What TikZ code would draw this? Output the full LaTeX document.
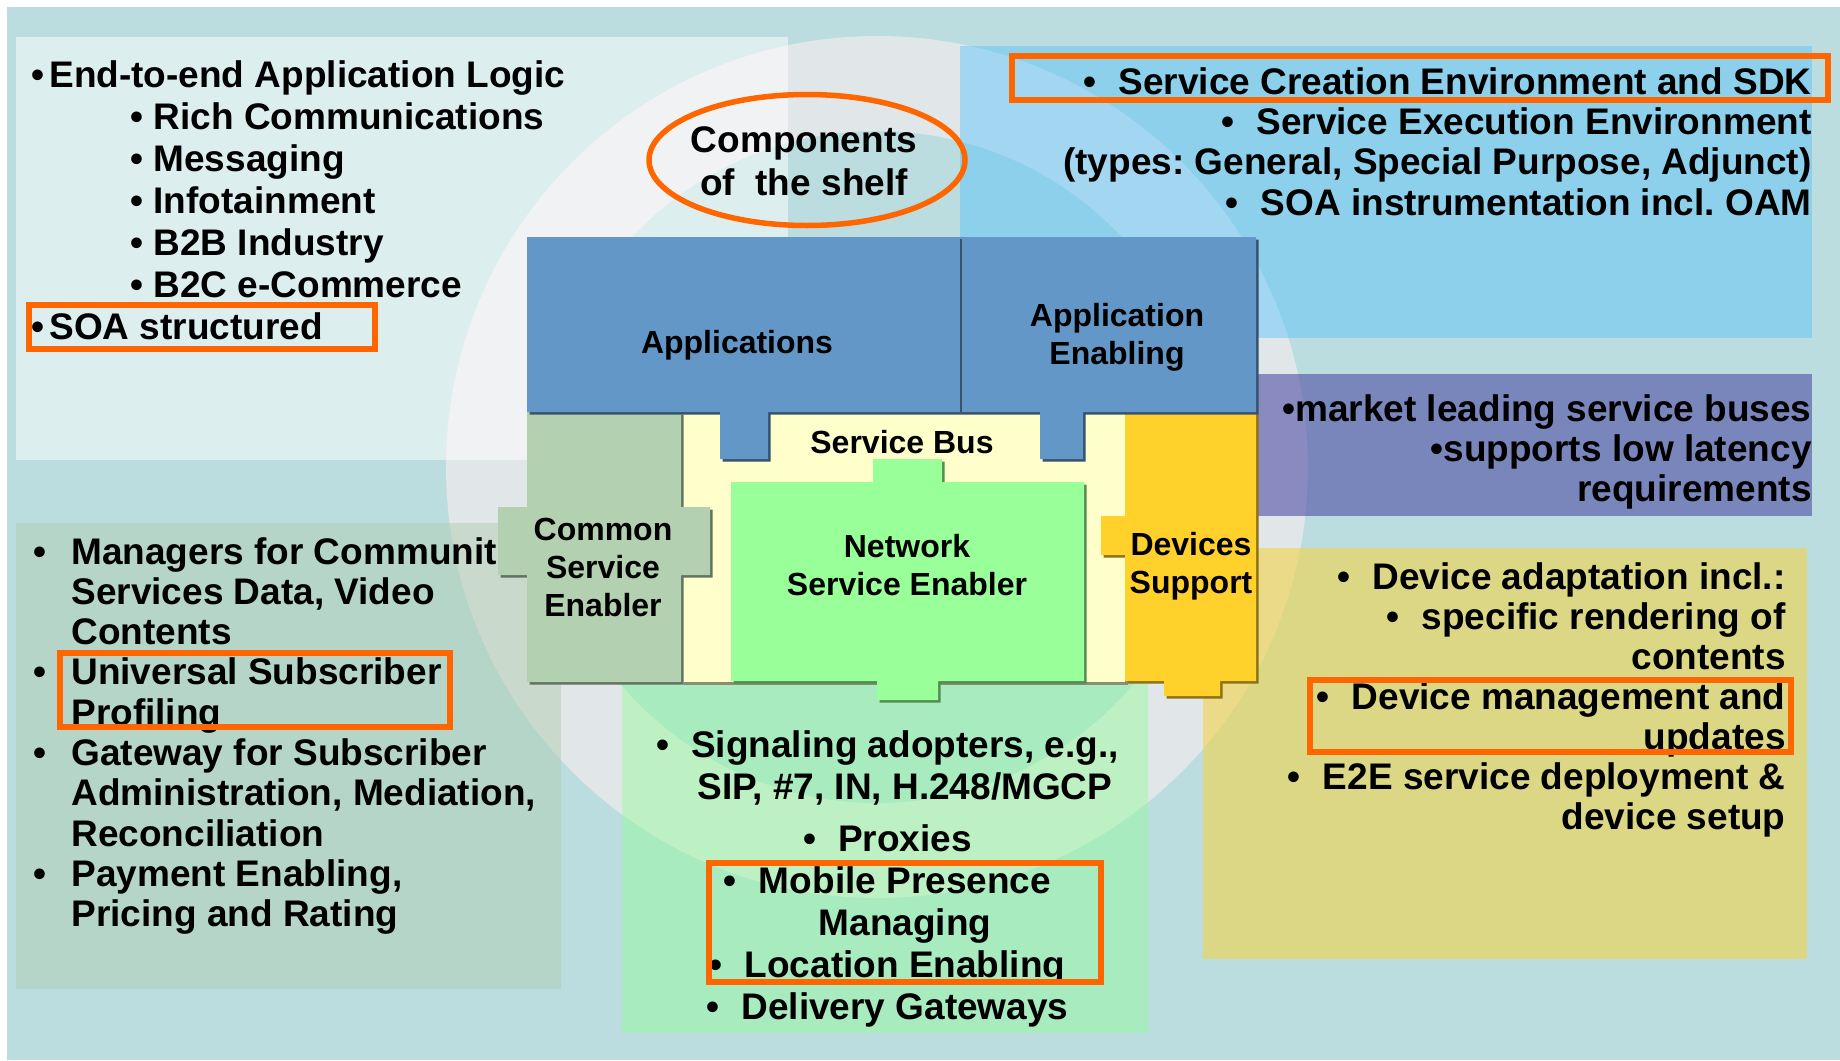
\documentclass[tikz,border=0pt]{standalone}
\usepackage{fontspec}
\setmainfont{Liberation Sans}
\usepackage{tikz}
\frenchspacing

\definecolor{bgteal}{RGB}{188,221,223}
\definecolor{ringgrey}{RGB}{225,230,232}
\definecolor{trpanel}{RGB}{67,190,255}
\definecolor{pupanel}{RGB}{69,66,160}
\definecolor{yepanel}{RGB}{243,212,67}
\definecolor{grpanel}{RGB}{140,255,146}
\definecolor{lbpanel}{RGB}{172,203,171}
\definecolor{appblue}{RGB}{99,151,200}
\definecolor{busyellow}{RGB}{255,255,204}
\definecolor{csegreen}{RGB}{179,209,177}
\definecolor{nsegreen}{RGB}{153,255,153}
\definecolor{devyellow}{RGB}{255,209,42}
\definecolor{markorange}{RGB}{255,102,0}

\tikzset{
  blk/.style={fill=#1, preaction={fill=#1!55!black, transform canvas={shift={(2.5,2.5)}}}},
  hilite/.style={draw=markorange, line width=2.75pt},
  txt/.style={inner sep=0pt, font=\bfseries\fontsize{18.5}{#1}\selectfont},
  blktxt/.style={inner sep=0pt, font=\bfseries\fontsize{16}{19}\selectfont},
}

\begin{document}
\begin{tikzpicture}[x=0.5pt, y=-0.5pt]
	\useasboundingbox (0,0) rectangle (1840,1060);
	\fill[white] (0,0) rectangle (1840,1060);
	\fill[bgteal] (7,7) rectangle (1840,1060);
	% light ring behind everything
	\fill[ringgrey, even odd rule] (877,467) circle[radius=431] (877,467) circle[radius=336];
	% panels
	\fill[white, fill opacity=0.5] (16,37) rectangle (788,460);
	\fill[trpanel, fill opacity=0.39] (960,46) rectangle (1812,338);
	\fill[pupanel, fill opacity=0.56] (1256,374) rectangle (1812,516);
	\fill[yepanel, fill opacity=0.58] (1203,548) rectangle (1807,959);
	\fill[grpanel, fill opacity=0.42] (622,600) rectangle (1148,1033);
	\fill[lbpanel, fill opacity=0.44] (16,523) rectangle (561,989);
	% building blocks
	\fill[blk=busyellow] (681,412) rectangle (1125,682);
	\fill[blk=csegreen] (527,412) -- (681,412) -- (681,507) -- (710,507) -- (710,575) -- (681,575) -- (681,682) -- (527,682) -- (527,575) -- (498,575) -- (498,507) -- (527,507) -- cycle;
	\fill[blk=nsegreen] (731,482) -- (873,482) -- (873,459) -- (942,459) -- (942,482) -- (1084,482) -- (1084,681) -- (938,681) -- (938,700) -- (877,700) -- (877,681) -- (731,681) -- cycle;
	\fill[blk=devyellow] (1125,412) -- (1256,412) -- (1256,681) -- (1220,681) -- (1220,696) -- (1164,696) -- (1164,681) -- (1125,681) -- (1125,555) -- (1101,555) -- (1101,516) -- (1125,516) -- cycle;
	\fill[blk=appblue] (527,237) -- (1256,237) -- (1256,412) -- (1083,412) -- (1083,459) -- (1040,459) -- (1040,412) -- (768,412) -- (768,459) -- (720,459) -- (720,412) -- (527,412) -- cycle;
	\draw[appblue!55!black, line width=1pt] (960.5,239) -- (960.5,412);
	% block labels
	\node[blktxt, anchor=base] (apps) at (737,353) {Applications};
	\node[blktxt, anchor=base] (appenab) at (1117,326) {\begin{tabular}[t]{@{}c@{}}Application\\Enabling\end{tabular}};
	\node[blktxt, anchor=base] (bus) at (902,453) {Service Bus};
	\node[blktxt, anchor=base] (cse) at (603,540) {\begin{tabular}[t]{@{}c@{}}Common\\Service\\Enabler\end{tabular}};
	\node[blktxt, anchor=base] (nse) at (907,557) {\begin{tabular}[t]{@{}c@{}}Network\\Service Enabler\end{tabular}};
	\node[blktxt, anchor=base] (devs) at (1191,555) {\begin{tabular}[t]{@{}c@{}}Devices\\Support\end{tabular}};
	% panel texts
	\node[txt=21.5, anchor=base] (cots) at (804,152) {\begin{tabular}[t]{@{}c@{}}Components\\of~~the shelf\end{tabular}};
	\node[txt=21.08, anchor=base west] (applogic) at (31,87) {\begin{tabular}[t]{@{}l@{}}
		•\hspace{2.5pt}End-to-end Application Logic\\
		\hspace{49.5pt}• Rich Communications\\
		\hspace{49.5pt}• Messaging\\
		\hspace{49.5pt}• Infotainment\\
		\hspace{49.5pt}• B2B Industry\\
		\hspace{49.5pt}• B2C e-Commerce\\
		•\hspace{2.5pt}SOA structured
	\end{tabular}};
	\node[txt=20.17, anchor=base east] (sdk) at (1812,94) {\begin{tabular}[t]{@{}r@{}}
		•\hspace{.6em}Service Creation Environment and SDK\\
		•\hspace{.6em}Service Execution Environment\\
		(types: General, Special Purpose, Adjunct)\\
		•\hspace{.6em}SOA instrumentation incl. OAM
	\end{tabular}};
	\node[txt=20, anchor=base east] (buses) at (1812,421) {\begin{tabular}[t]{@{}r@{}}
		•market leading service buses\\
		•supports low latency\\
		requirements
	\end{tabular}};
	\node[txt=20.08, anchor=base east] (devadapt) at (1786,589) {\begin{tabular}[t]{@{}r@{}}
		•\hspace{.6em}Device adaptation incl.:\\
		•\hspace{.6em}specific rendering of\\
		contents\\
		•\hspace{.6em}Device management and\\
		updates\\
		•\hspace{.6em}E2E service deployment \&\\
		device setup
	\end{tabular}};
	\node[txt=20.15, anchor=base west] (managers) at (33,564) {\begin{tabular}[t]{@{}l@{}}
		\makebox[19pt][l]{•}Managers for Communit\\
		\hspace{19pt}Services Data, Video\\
		\hspace{19pt}Contents\\
		\makebox[19pt][l]{•}Universal Subscriber\\
		\hspace{19pt}Profiling\\
		\makebox[19pt][l]{•}Gateway for Subscriber\\
		\hspace{19pt}Administration, Mediation,\\
		\hspace{19pt}Reconciliation\\
		\makebox[19pt][l]{•}Payment Enabling,\\
		\hspace{19pt}Pricing and Rating
	\end{tabular}};
	\node[txt=21, anchor=base] (signaling) at (905,757) {\begin{tabular}[t]{@{}c@{}}
		\llap{•\hspace{.6em}}Signaling adopters, e.g.,\\
		SIP, \#7, IN, H.248/MGCP\\[5pt]
		\llap{•\hspace{.6em}}Proxies\\
		\llap{•\hspace{.6em}}Mobile Presence\\
		Managing\\
		\llap{•\hspace{.6em}}Location Enabling\\
		\llap{•\hspace{.6em}}Delivery Gateways
	\end{tabular}};
	% orange highlights
	\draw[hilite] (807,160) ellipse [x radius=158, y radius=65.5];
	\draw[hilite] (29,305) rectangle (375,349);
	\draw[hilite] (1012,56) rectangle (1828,100);
	\draw[hilite] (60,653) rectangle (450,727);
	\draw[hilite] (1310,680) rectangle (1791,752);
	\draw[hilite] (709,863) rectangle (1101,982);
\end{tikzpicture}
\end{document}
